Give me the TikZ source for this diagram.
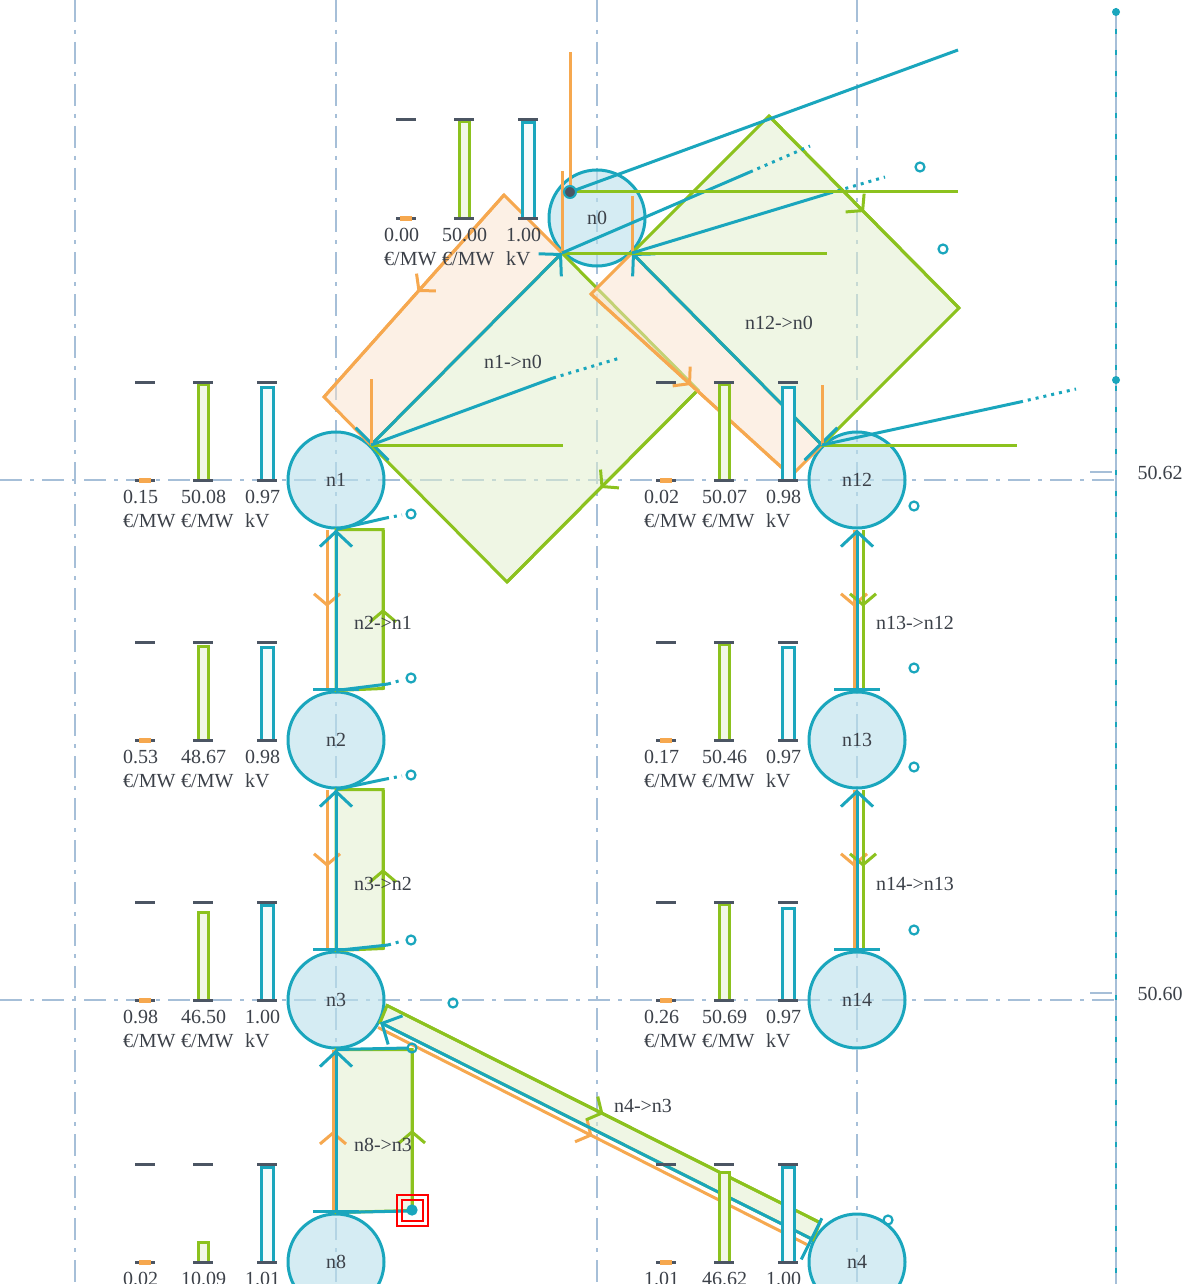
\documentclass[tikz,border=0pt]{standalone}
\usepackage{fontspec}
\setmainfont{Liberation Serif}
\usepackage{xcolor}
\usepackage{tikz}
\usetikzlibrary{calc,arrows.meta,decorations.markings}
\definecolor{tealc}{HTML}{1AA6BD}
\definecolor{grn}{HTML}{8CC21E}
\definecolor{orng}{HTML}{F6A84F}
\definecolor{gridc}{HTML}{A6BFD8}
\definecolor{busc}{HTML}{BCE1EC}
\definecolor{lgrn}{HTML}{E2F0CF}
\definecolor{lorng}{HTML}{FBE2CC}
\definecolor{barg}{HTML}{F1F7E8}
\definecolor{capc}{HTML}{4B5563}
\definecolor{txtc}{HTML}{3C4149}
\newcommand{\bargroup}[8]{\draw[grn,fill=barg,line width=3pt] ({#2-138},#3) rectangle ({#2-128},{#3-98+#7}); \draw[tealc,fill=tealc!5,line width=3pt] ({#2-75},#3) rectangle ({#2-63},{#3-98+#8});
\draw[capc,line width=3pt] ({#2-201},{#3-98})--({#2-181},{#3-98}) ({#2-143},{#3-98})--({#2-123},{#3-98}) ({#2-79},{#3-98})--({#2-59},{#3-98}) ({#2-201},#3)--({#2-181},#3) ({#2-143},#3)--({#2-123},#3) ({#2-79},#3)--({#2-59},#3);
\draw[orng,line width=5pt] ({#2-197},#3)--({#2-185},#3);
\node[lbl,anchor=west] (#1a) at ({#2-213},{#3+17}) {#4}; \node[lbl,anchor=west] (#1b) at ({#2-155},{#3+17}) {#5}; \node[lbl,anchor=west] (#1c) at ({#2-91},{#3+17}) {#6};
\node[lbl,anchor=west] (#1d) at ({#2-213},{#3+41}) {€/MW}; \node[lbl,anchor=west] (#1e) at ({#2-155},{#3+41}) {€/MW}; \node[lbl,anchor=west] (#1f) at ({#2-91},{#3+41}) {kV};}

\begin{document}
\begin{tikzpicture}[x=1pt,y=-1pt,font=\fontsize{20}{22}\selectfont,
  bus/.style={circle,draw=tealc,fill=busc,fill opacity=0.62,text opacity=1,line width=3pt,minimum size=96pt,inner sep=0pt,text=txtc},
  lbl/.style={text=txtc,inner sep=0pt},
  gridln/.style={gridc,line width=2.2pt,dash pattern=on 22pt off 8pt on 4pt off 8pt},
  tl/.style={tealc,line width=3pt},
  gl/.style={grn,line width=3pt},
  ol/.style={orng,line width=3pt},
  srcbar/.style={{Bar[width=46pt]}-{Straight Barb[length=15pt,width=32pt]}},
  midarr/.style={postaction={decorate},decoration={markings,mark=at position #1 with {\arrow{Straight Barb[length=11pt,width=26pt]}}}},
  dotray/.style={tealc,line width=3pt,dash pattern=on 3pt off 5pt},
  ring/.style={circle,draw=tealc,line width=2.2pt,inner sep=0pt,minimum size=9pt},
  flowg/.style={gl,fill=lgrn,fill opacity=0.55},
  flowo/.style={ol,fill=lorng,fill opacity=0.5}]
\useasboundingbox (0,0) rectangle (1192,1284);
\clip (0,0) rectangle (1192,1284);
\fill[white] (0,0) rectangle (1192,1284);
% grid and axis
\foreach \gx in {75,336,597,857} \draw[gridln] (\gx,0) -- (\gx,1284);
\foreach \gy in {480,1000} \draw[gridln] (0,\gy) -- (1116,\gy);
\draw[gridc,line width=2pt] (1116,8) -- (1116,1284) (1090,472) -- (1112,472) (1090,993) -- (1112,993);
\draw[tealc,line width=1.5pt,dash pattern=on 5pt off 16pt] (1116,8) -- (1116,1284);
\fill[tealc] (1116,12) circle (4pt) (1116,380) circle (4pt);
\node[lbl] (y62) at (1160,473) {50.62};
\node[lbl] (y60) at (1160,994) {50.60};
% buses
\node[bus] (n0) at (597,218) {n0};
\node[bus] (n1) at (336,480) {n1};
\node[bus] (n12) at (857,480) {n12};
\node[bus] (n2) at (336,740) {n2};
\node[bus] (n13) at (857,740) {n13};
\node[bus] (n3) at (336,1000) {n3};
\node[bus] (n14) at (857,1000) {n14};
\node[bus] (n8) at (336,1262) {n8};
\node[bus] (n4) at (857,1262) {n4};
% n1->n0
\draw[flowo] (n1.45) -- ($(n1.45)+(-47,-48)$) -- ($(n0.225)+(-58,-58)$) -- (n0.225) -- cycle;
\draw[flowg] (n1.45) -- (n0.225) -- ($(n0.225)+(136,137)$) -- ($(n1.45)+(136,137)$) -- cycle;
\draw[ol,midarr=0.48] ($(n0.225)+(-58,-58)$) -- ($(n1.45)+(-47,-48)$);
\draw[gl,midarr=0.51] ($(n0.225)+(136,137)$) -- ($(n1.45)+(136,137)$);
% n12->n0
\draw[flowo] (n0.-45) -- ($(n0.-45)+(-41,41)$) -- ($(n12.135)+(-31,31)$) -- (n12.135) -- cycle;
\draw[flowg] (n0.-45) -- ($(n0.-45)+(137,-137)$) -- ($(n12.135)+(137,-137)$) -- (n12.135) -- cycle;
\draw[ol,midarr=0.5] ($(n0.-45)+(-41,41)$) -- ($(n12.135)+(-31,31)$);
\draw[gl,midarr=0.5] ($(n0.-45)+(137,-137)$) -- ($(n12.135)+(137,-137)$);
\draw[tl,srcbar] (n1.45) -- (n0.225);
\draw[tl,srcbar] (n12.135) -- (n0.-45);
% rays round n0, n1, n12
\draw[ol] (n0.225) -- ++(0,-82) (n0.-45) -- ++(0,-57) (n1.45) -- ++(0,-66) (n12.135) -- ++(0,-60);
\draw[gl] (n0.225) -- (n0.-45) -- ++(195,0);
\draw[tl] (n0.225) -- (750,172); \draw[dotray] (750,172) -- (810,146);
\draw[tl] (n0.-45) -- (830,193); \draw[dotray] (830,193) -- (885,177);
\coordinate (sl) at (570,192);
\draw[ol] (sl) -- (570,52);
\draw[gl] (sl) -- (958,192);
\draw[tl] (sl) -- (958,50);
\node[circle,fill=capc,draw=tealc,line width=2pt,minimum size=12pt,inner sep=0pt] (slack) at (sl) {};
\draw[gl] (n1.45) -- ++(192,0);
\draw[tl] (n1.45) -- (553,378); \draw[dotray] (553,378) -- (620,358);
\draw[gl] (n12.135) -- ++(195,0);
\draw[tl] (n12.135) -- (1020,402); \draw[dotray] (1020,402) -- (1076,389);
% n2->n1
\draw[flowg] (n1.south) -- ++(47,0) -- ($(n2.north)+(47,-2)$) -- (n2.north) -- cycle;
\draw[gl,midarr=0.5] ($(n2.north)+(47,-2)$) -- ($(n1.south)+(47,0)$);
\draw[ol,midarr=0.48] ($(n1.south)+(-9,0)$) -- ($(n2.north)+(-9,0)$);
\draw[tl,srcbar] (n2.north) -- (n1.south);
\draw[tl] (n1.south) -- (386,518); \draw[dotray] (386,518) -- (402,515);
\draw[tl] (n2.north) -- (388,684); \draw[dotray] (388,684) -- (402,680);
% n3->n2
\draw[flowg] (n2.south) -- ++(47,0) -- ($(n3.north)+(47,-2)$) -- (n3.north) -- cycle;
\draw[gl,midarr=0.5] ($(n3.north)+(47,-2)$) -- ($(n2.south)+(47,0)$);
\draw[ol,midarr=0.48] ($(n2.south)+(-9,0)$) -- ($(n3.north)+(-9,0)$);
\draw[tl,srcbar] (n3.north) -- (n2.south);
\draw[tl] (n2.south) -- (386,779); \draw[dotray] (386,779) -- (402,776);
\draw[tl] (n3.north) -- (388,945); \draw[dotray] (388,945) -- (402,941);
% n8->n3
\draw[flowg] (n3.south) -- ++(76,0) -- ($(n8.north)+(76,-2)$) -- (n8.north) -- cycle;
\draw[gl,midarr=0.5] ($(n8.north)+(76,-2)$) -- ($(n3.south)+(76,0)$);
\draw[ol,midarr=0.5] ($(n8.north)+(-3,0)$) -- ($(n3.south)+(-3,0)$);
\draw[tl,srcbar] (n8.north) -- (n3.south);
\draw[tl] (n3.south) -- (408,1048);
\draw[tl] (n8.north) -- (408,1211);
% n4->n3
\draw[flowg] ($(n3.-27)+(7,-17)$) -- ($(n4.153)+(7,-17)$) -- (n4.153) -- (n3.-27) -- cycle;
\draw[ol,midarr=0.5] ($(n3.-27)+(-2,5)$) -- ($(n4.153)+(-6,5)$);
\draw[gl,midarr=0.5] ($(n3.-27)+(7,-17)$) -- ($(n4.153)+(7,-17)$);
\draw[tl,srcbar] (n4.153) -- (n3.-27);
% n13->n12, n14->n13
\draw[ol,midarr=0.48] ($(n12.south)+(-3,0)$) -- ($(n13.north)+(-3,0)$);
\draw[gl,midarr=0.48] ($(n12.south)+(6,0)$) -- ($(n13.north)+(6,0)$);
\draw[tl,srcbar] (n13.north) -- (n12.south);
\draw[ol,midarr=0.48] ($(n13.south)+(-3,0)$) -- ($(n14.north)+(-3,0)$);
\draw[gl,midarr=0.48] ($(n13.south)+(6,0)$) -- ($(n14.north)+(6,0)$);
\draw[tl,srcbar] (n14.north) -- (n13.south);
% bars
\bargroup{n0}{597}{218}{0.00}{50.00}{1.00}{2}{3}
\bargroup{n1}{336}{480}{0.15}{50.08}{0.97}{2}{5}
\bargroup{n12}{857}{480}{0.02}{50.07}{0.98}{2}{5}
\bargroup{n2}{336}{740}{0.53}{48.67}{0.98}{4}{5}
\bargroup{n13}{857}{740}{0.17}{50.46}{0.97}{2}{5}
\bargroup{n3}{336}{1000}{0.98}{46.50}{1.00}{10}{3}
\bargroup{n14}{857}{1000}{0.26}{50.69}{0.97}{2}{6}
\bargroup{n8}{336}{1262}{0.02}{10.09}{1.01}{78}{3}
\bargroup{n4}{857}{1262}{1.01}{46.62}{1.00}{8}{3}
% rings
\foreach \rx/\ry [count=\i] in {411/514,411/678,411/775,411/940,412/1048,453/1003,914/506,914/668,914/767,914/930,920/167,943/249,888/1220}
  \node[ring] (r\i) at (\rx,\ry) {};
\node[ring,fill=tealc] (sel) at (412,1210) {};
\draw[red,line width=2pt] (397,1195) rectangle (428,1226);
\draw[red,line width=1.5pt] (402,1200) rectangle (423,1221);
% line labels
\node[lbl] (l10) at (513,362) {n1->n0};
\node[lbl] (l120) at (779,323) {n12->n0};
\node[lbl] (l21) at (383,623) {n2->n1};
\node[lbl] (l32) at (383,884) {n3->n2};
\node[lbl] (l83) at (383,1145) {n8->n3};
\node[lbl] (l43) at (643,1106) {n4->n3};
\node[lbl] (l1312) at (915,623) {n13->n12};
\node[lbl] (l1413) at (915,884) {n14->n13};
\end{tikzpicture}
\end{document}
